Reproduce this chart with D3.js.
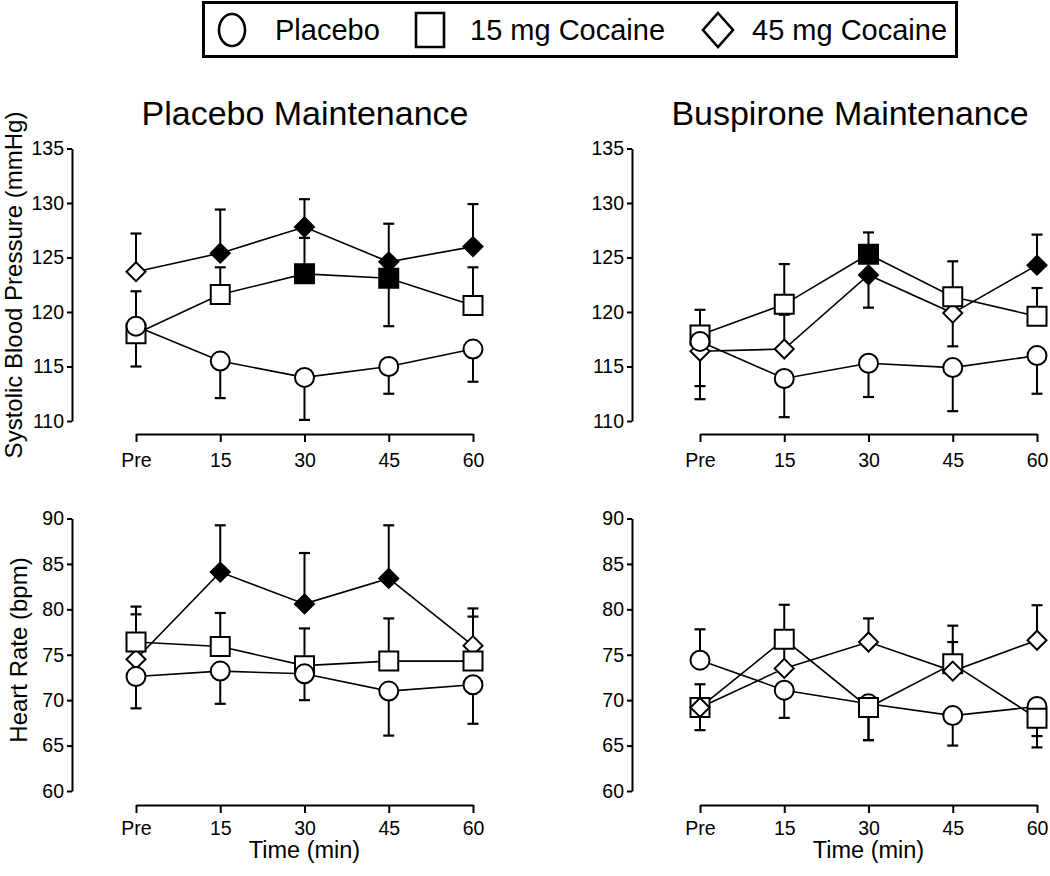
<!DOCTYPE html>
<html>
<head>
<meta charset="utf-8">
<script src="https://cdn.jsdelivr.net/npm/d3@7"></script>
<style>
  body { margin: 0; background: #fff; }
  svg { display: block; font-family: "Liberation Sans", Arial, sans-serif; }
</style>
</head>
<body>
<svg id="chart" width="1050" height="876"></svg>
<script>
// ---------------- DATA ----------------
const timePoints = ["Pre", "15", "30", "45", "60"];
const seriesNames = ["Placebo", "15 mg Cocaine", "45 mg Cocaine"];
const panelTitles = ["Placebo Maintenance", "Buspirone Maintenance"];
const sbpTicks = [110, 115, 120, 125, 130, 135];
const hrTicks = [60, 65, 70, 75, 80, 85, 90];

// Systolic BP, placebo maintenance
const sbpPlbPlacebo = [118.7, 115.5, 114.0, 115.0, 116.6];
const sbpPlbPlaceboErr = [3.7, 3.4, 3.9, 2.5, 3.0];
const sbpPlbPlaceboDir = [-1, -1, -1, -1, -1];
const sbpPlbPlaceboFill = [0, 0, 0, 0, 0];
const sbpPlbCoc15 = [118.0, 121.6, 123.5, 123.1, 120.6];
const sbpPlbCoc15Err = [3.9, 2.5, 3.3, 4.4, 3.5];
const sbpPlbCoc15Dir = [1, 1, 1, -1, 1];
const sbpPlbCoc15Fill = [0, 0, 1, 1, 0];
const sbpPlbCoc45 = [123.7, 125.4, 127.8, 124.6, 126.0];
const sbpPlbCoc45Err = [3.5, 4.0, 2.55, 3.5, 3.9];
const sbpPlbCoc45Dir = [1, 1, 1, 1, 1];
const sbpPlbCoc45Fill = [0, 1, 1, 1, 1];

// Systolic BP, buspirone maintenance
const sbpBusPlacebo = [117.3, 113.9, 115.3, 114.9, 116.0];
const sbpBusPlaceboErr = [4.1, 3.55, 3.1, 4.0, 3.5];
const sbpBusPlaceboDir = [-1, -1, -1, -1, -1];
const sbpBusPlaceboFill = [0, 0, 0, 0, 0];
const sbpBusCoc15 = [117.9, 120.7, 125.3, 121.4, 119.6];
const sbpBusCoc15Err = [2.3, 3.7, 2.0, 3.25, 2.6];
const sbpBusCoc15Dir = [1, 1, 1, 1, 1];
const sbpBusCoc15Fill = [0, 0, 1, 0, 0];
const sbpBusCoc45 = [116.4, 116.6, 123.4, 119.9, 124.3];
const sbpBusCoc45Err = [4.4, 3.15, 3.0, 3.05, 2.8];
const sbpBusCoc45Dir = [-1, 1, -1, -1, 1];
const sbpBusCoc45Fill = [0, 0, 1, 0, 1];

// Heart rate, placebo maintenance
const hrPlbPlacebo = [72.6, 73.2, 72.9, 71.0, 71.7];
const hrPlbPlaceboErr = [3.5, 3.6, 2.9, 4.9, 4.3];
const hrPlbPlaceboDir = [-1, -1, -1, -1, -1];
const hrPlbPlaceboFill = [0, 0, 0, 0, 0];
const hrPlbCoc15 = [76.4, 75.9, 73.8, 74.3, 74.3];
const hrPlbCoc15Err = [3.9, 3.7, 4.1, 4.7, 4.9];
const hrPlbCoc15Dir = [1, 1, 1, 1, 1];
const hrPlbCoc15Fill = [0, 0, 0, 0, 0];
const hrPlbCoc45 = [74.5, 84.1, 80.6, 83.4, 76.0];
const hrPlbCoc45Err = [4.95, 5.15, 5.6, 5.85, 4.1];
const hrPlbCoc45Dir = [1, 1, 1, 1, 1];
const hrPlbCoc45Fill = [0, 1, 1, 1, 0];

// Heart rate, buspirone maintenance
const hrBusPlacebo = [74.4, 71.1, 69.6, 68.3, 69.3];
const hrBusPlaceboErr = [3.4, 3.05, 4.0, 3.3, 3.25];
const hrBusPlaceboDir = [1, -1, -1, -1, -1];
const hrBusPlaceboFill = [0, 0, 0, 0, 0];
const hrBusCoc15 = [69.2, 76.7, 69.2, 74.0, 68.0];
const hrBusCoc15Err = [2.55, 3.8, 3.6, 4.2, 3.2];
const hrBusCoc15Dir = [1, 1, -1, 1, -1];
const hrBusCoc15Fill = [0, 0, 0, 0, 0];
const hrBusCoc45 = [69.2, 73.5, 76.4, 73.2, 76.6];
const hrBusCoc45Err = [2.5, 3.0, 2.6, 3.2, 3.85];
const hrBusCoc45Dir = [-1, 1, 1, 1, 1];
const hrBusCoc45Fill = [0, 0, 0, 0, 0];

// ---------------- BUILD ----------------
function mk(shape, vals, err, dir, fill) {
  return { shape, points: vals.map((v, i) => ({ t: timePoints[i], v, e: err[i], d: dir[i], f: fill[i] })) };
}

const panels = [
  { col: 0, row: 0, ticks: sbpTicks, order: [2, 1, 0], series: [
      mk("circle", sbpPlbPlacebo, sbpPlbPlaceboErr, sbpPlbPlaceboDir, sbpPlbPlaceboFill),
      mk("square", sbpPlbCoc15, sbpPlbCoc15Err, sbpPlbCoc15Dir, sbpPlbCoc15Fill),
      mk("diamond", sbpPlbCoc45, sbpPlbCoc45Err, sbpPlbCoc45Dir, sbpPlbCoc45Fill)] },
  { col: 1, row: 0, ticks: sbpTicks, order: [2, 1, 0], series: [
      mk("circle", sbpBusPlacebo, sbpBusPlaceboErr, sbpBusPlaceboDir, sbpBusPlaceboFill),
      mk("square", sbpBusCoc15, sbpBusCoc15Err, sbpBusCoc15Dir, sbpBusCoc15Fill),
      mk("diamond", sbpBusCoc45, sbpBusCoc45Err, sbpBusCoc45Dir, sbpBusCoc45Fill)] },
  { col: 0, row: 1, ticks: hrTicks, order: [2, 1, 0], series: [
      mk("circle", hrPlbPlacebo, hrPlbPlaceboErr, hrPlbPlaceboDir, hrPlbPlaceboFill),
      mk("square", hrPlbCoc15, hrPlbCoc15Err, hrPlbCoc15Dir, hrPlbCoc15Fill),
      mk("diamond", hrPlbCoc45, hrPlbCoc45Err, hrPlbCoc45Dir, hrPlbCoc45Fill)] },
  { col: 1, row: 1, ticks: hrTicks, order: [0, 1, 2], series: [
      mk("circle", hrBusPlacebo, hrBusPlaceboErr, hrBusPlaceboDir, hrBusPlaceboFill),
      mk("square", hrBusCoc15, hrBusCoc15Err, hrBusCoc15Dir, hrBusCoc15Fill),
      mk("diamond", hrBusCoc45, hrBusCoc45Err, hrBusCoc45Dir, hrBusCoc45Fill)] }
];

// layout
const colLayout = [ { yAxisX: 72, xStart: 136, xEnd: 473, titleX: 305 },
                    { yAxisX: 632, xStart: 700, xEnd: 1037, titleX: 850 } ];
const rowLayout = [ { yTop: 148.5, yBot: 421, xAxisY: 434, pad: 11 },
                    { yTop: 518.5, yBot: 791, xAxisY: 805, pad: 8 } ];

const svg = d3.select("#chart");

function markerPath(shape, size) {
  const r = size;
  if (shape === "circle") return d3.symbol().type(d3.symbolCircle).size(Math.PI * r * r)();
  if (shape === "square") return `M${-r},${-r}H${r}V${r}H${-r}Z`;
  return `M0,${-r}L${r},0L0,${r}L${-r},0Z`;
}
const markerSize = { circle: 9.5, square: 9.5, diamond: 9.5 };

panels.forEach(p => {
  const C = colLayout[p.col], R = rowLayout[p.row];
  const x = d3.scalePoint().domain(timePoints).range([C.xStart, C.xEnd]).padding(0);
  const y = d3.scaleLinear().domain([p.ticks[0], p.ticks[p.ticks.length - 1]]).range([R.yBot, R.yTop]);
  const g = svg.append("g");

  // y axis
  const ya = g.append("g").attr("transform", `translate(${C.yAxisX},0)`)
    .call(d3.axisLeft(y).tickValues(p.ticks).tickSize(5).tickSizeOuter(0).tickPadding(3).tickFormat(d3.format("d")));
  ya.selectAll("path,line").attr("stroke", "#000").attr("stroke-width", 2);
  ya.selectAll("text").attr("font-size", 19.5).attr("fill", "#000").attr("font-family", "Liberation Sans, Arial, sans-serif");

  // x axis
  const xa = g.append("g").attr("transform", `translate(0,${R.xAxisY})`)
    .call(d3.axisBottom(x).tickSize(8).tickSizeOuter(0).tickPadding(R.pad));
  xa.selectAll("path,line").attr("stroke", "#000").attr("stroke-width", 2);
  xa.selectAll("text").attr("font-size", 19.5).attr("fill", "#000").attr("font-family", "Liberation Sans, Arial, sans-serif");

  // error bars
  p.series.forEach(s => {
    const eb = g.append("g");
    eb.selectAll("line.stem").data(s.points).join("line")
      .attr("x1", d => x(d.t)).attr("x2", d => x(d.t))
      .attr("y1", d => y(d.v)).attr("y2", d => y(d.v + d.d * d.e))
      .attr("stroke", "#000").attr("stroke-width", 2);
    eb.selectAll("line.cap").data(s.points).join("line")
      .attr("x1", d => x(d.t) - 5.5).attr("x2", d => x(d.t) + 5.5)
      .attr("y1", d => y(d.v + d.d * d.e)).attr("y2", d => y(d.v + d.d * d.e))
      .attr("stroke", "#000").attr("stroke-width", 2.2);
  });

  // lines
  const line = d3.line().x(d => x(d.t)).y(d => y(d.v));
  p.series.forEach(s => {
    g.append("path").datum(s.points).attr("d", line)
      .attr("fill", "none").attr("stroke", "#000").attr("stroke-width", 1.6);
  });

  // markers
  p.order.forEach(k => {
    const s = p.series[k];
    g.append("g").selectAll("path").data(s.points).join("path")
      .attr("transform", d => `translate(${x(d.t)},${y(d.v)})`)
      .attr("d", markerPath(s.shape, markerSize[s.shape]))
      .attr("fill", d => d.f ? "#000" : "#fff")
      .attr("stroke", "#000").attr("stroke-width", 2);
  });

  // x title for bottom row
  if (p.row === 1) {
    g.append("text").attr("x", (C.xStart + C.xEnd) / 2).attr("y", 858)
      .attr("text-anchor", "middle").attr("font-size", 23.5).attr("fill", "#000")
      .text("Time (min)");
  }
  // panel titles for top row
  if (p.row === 0) {
    g.append("text").attr("x", C.titleX).attr("y", 125)
      .attr("text-anchor", "middle").attr("font-size", 34).attr("fill", "#000")
      .text(panelTitles[p.col]);
  }
});

// y axis titles
svg.append("text").attr("transform", "translate(22,285) rotate(-90)")
  .attr("text-anchor", "middle").attr("font-size", 24).attr("fill", "#000")
  .text("Systolic Blood Pressure (mmHg)");
svg.append("text").attr("transform", "translate(27,650) rotate(-90)")
  .attr("text-anchor", "middle").attr("font-size", 24).attr("fill", "#000")
  .text("Heart Rate (bpm)");

// legend
const lg = svg.append("g");
lg.append("rect").attr("x", 203.5).attr("y", 2.5).attr("width", 753).attr("height", 54)
  .attr("fill", "#fff").attr("stroke", "#000").attr("stroke-width", 3);
const legendMarkerX = [232, 430, 718];
const legendTextX = [275, 470, 752];
const legendShapes = ["circle", "square", "diamond"];
legendShapes.forEach((sh, i) => {
  let d;
  if (sh === "circle") d = "M0,-16A13,16 0 1,1 0,16A13,16 0 1,1 0,-16Z";
  else if (sh === "square") d = "M-14,-17H14V17H-14Z";
  else d = "M0,-17L15,0L0,17L-15,0Z";
  lg.append("path").attr("transform", `translate(${legendMarkerX[i]},30)`).attr("d", d)
    .attr("fill", "#fff").attr("stroke", "#000").attr("stroke-width", 2.6);
  lg.append("text").attr("x", legendTextX[i]).attr("y", 40).attr("font-size", 29)
    .attr("fill", "#000").text(seriesNames[i]);
});
</script>
</body>
</html>
